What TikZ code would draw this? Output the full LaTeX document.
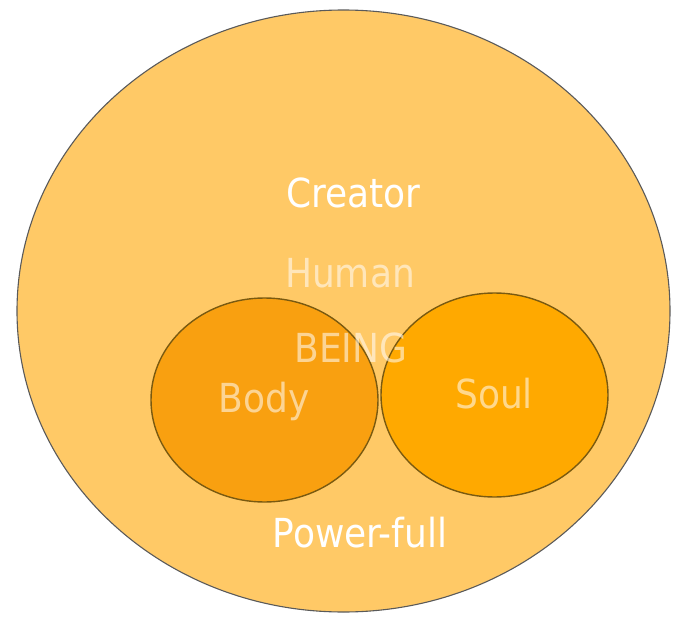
\documentclass[tikz,border=0pt]{standalone}
\usepackage{fontspec}
\setmainfont{DejaVu Sans Condensed}
\usepackage{tikz}
\usetikzlibrary{shapes.geometric}
\definecolor{outerfill}{HTML}{FFC966}
\definecolor{outerline}{HTML}{5A5A5A}
\definecolor{bodyfill}{HTML}{F9A010}
\definecolor{soulfill}{HTML}{FFA900}
\definecolor{rimline}{HTML}{7A5A10}
\tikzset{
  circ/.style={ellipse,inner sep=0pt,line width=1.4pt},
  word/.style={anchor=base,inner sep=0pt,font=\fontsize{40}{44}\selectfont,text=white},
  faint/.style={word,text opacity=0.55},
}
\begin{document}
\begin{tikzpicture}[x=1pt,y=-1pt]
  \useasboundingbox (0,0) rectangle (683,618);
  \node[circ,draw=outerline,fill=outerfill,line width=1.1pt,
    minimum width=653pt,minimum height=602pt] (world) at (343.5,311) {};
  \node[circ,draw=rimline,fill=bodyfill,
    minimum width=227pt,minimum height=204pt] (bodyring) at (264.5,400) {};
  \node[circ,draw=rimline,fill=soulfill,
    minimum width=227pt,minimum height=204pt] (soulring) at (494.5,395) {};
  % labels
  \node[word] (creator) at (353.5,207) {Creator};
  \node[faint] (human) at (350,287) {Human};
  \node[faint] (being) at (351,362) {BEING};
  \node[faint] (body) at (264,412) {Body};
  \node[faint] (soul) at (494,408) {Soul};
  \node[word] (power) at (360,547) {Power-full};
\end{tikzpicture}
\end{document}
